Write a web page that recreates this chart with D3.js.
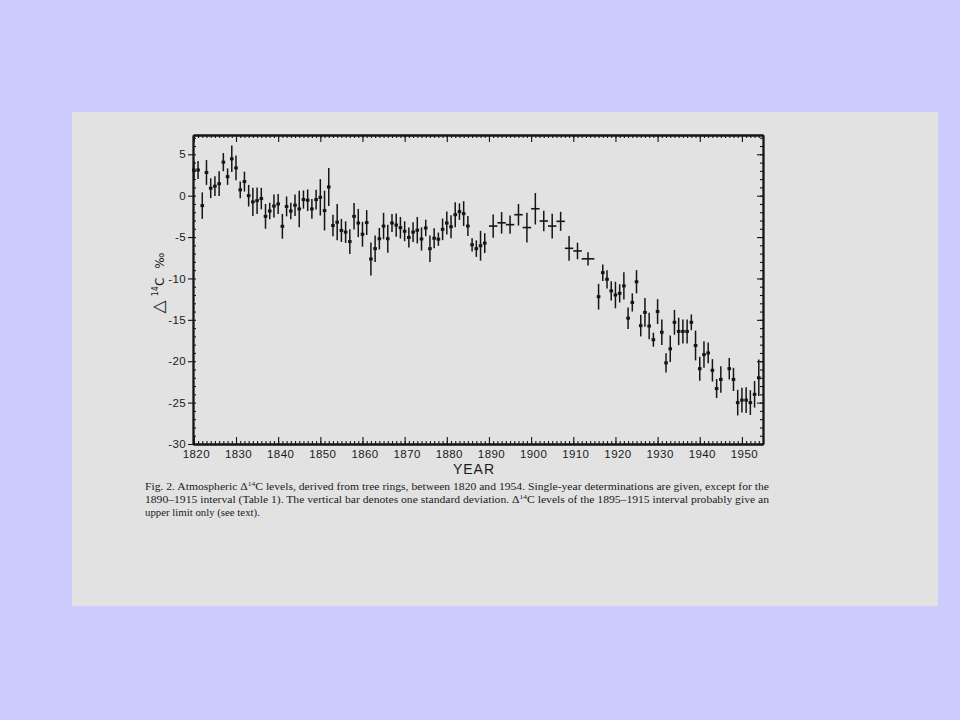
<!DOCTYPE html>
<html>
<head>
<meta charset="utf-8">
<script src="https://cdn.jsdelivr.net/npm/d3@7"></script>
<style>
  html, body { margin: 0; padding: 0; background: #ccccff; }
  svg { display: block; }
</style>
</head>
<body>
<svg id="chart" width="960" height="720"></svg>
<script>
// ---- data ----
const singleYears = [
  1820,1821,1822,1823,1824,1825,1826,1827,1828,1829,
  1830,1831,1832,1833,1834,1835,1836,1837,1838,1839,
  1840,1841,1842,1843,1844,1845,1846,1847,1848,1849,
  1850,1851,1852,1853,1854,1855,1856,1857,1858,1859,
  1860,1861,1862,1863,1864,1865,1866,1867,1868,1869,
  1870,1871,1872,1873,1874,1875,1876,1877,1878,1879,
  1880,1881,1882,1883,1884,1885,1886,1887,1888,1889,
  1916,1917,1918,1919,1920,1921,1922,1923,1924,1925,
  1926,1927,1928,1929,1930,1931,1932,1933,1934,1935,
  1936,1937,1938,1939,1940,1941,1942,1943,1944,1945,
  1947,1948,1949,1950,1951,1952,1953,1954
];
const singleValues = [
  3.1,3.1,-1.2,2.8,0.9,1.15,1.45,4.05,2.3,4.45,
  3.35,0.7,1.7,0.0,-0.75,-0.6,-0.35,-2.5,-1.85,-1.25,
  -1.0,-3.7,-1.3,-1.85,-1.15,-1.6,-0.47,-0.55,-1.6,-0.47,
  -0.2,-1.8,1.05,-3.6,-3.2,-4.2,-4.4,-5.55,-2.5,-3.3,
  -4.66,-3.25,-7.65,-6.4,-5.2,-3.67,-5.2,-3.3,-3.55,-3.87,
  -4.3,-5.05,-4.4,-4.17,-5.23,-3.9,-6.4,-5.14,-5.26,-4.07,
  -3.3,-3.75,-2.3,-1.93,-2.17,-3.67,-5.93,-6.4,-6.05,-5.73,
  -12.2,-9.3,-10.1,-11.5,-12.0,-11.8,-10.9,-14.8,-12.9,-10.4,
  -15.7,-14.1,-15.75,-17.4,-14.0,-16.5,-20.2,-18.5,-15.3,-16.4,
  -16.4,-16.4,-15.3,-18.1,-20.9,-19.2,-19.0,-21.1,-23.3,-22.2,
  -20.9,-22.2,-25.0,-24.7,-24.7,-25.0,-24.0,-22.0
];
const singleErrors = [
  1.1,1.1,1.6,1.5,1.2,1.2,1.5,1.1,1.0,1.6,
  1.5,1.0,1.2,1.3,1.7,1.6,1.3,1.5,1.0,1.4,
  1.2,1.5,1.2,1.0,1.3,2.2,1.1,1.3,1.2,1.2,
  2.2,2.4,2.3,1.3,2.2,1.4,1.3,1.5,1.6,1.7,
  1.5,1.5,2.0,1.6,1.3,1.6,1.7,1.1,1.4,1.3,
  1.2,1.2,1.2,1.6,1.4,1.0,1.6,1.2,0.8,1.3,
  1.4,1.4,1.5,1.0,1.5,1.2,0.8,1.0,1.8,1.2,
  1.55,1.0,1.1,1.15,1.6,1.1,1.65,1.3,1.1,1.4,
  1.3,1.75,1.6,0.85,1.5,1.55,1.15,1.6,1.5,1.65,
  1.45,1.45,0.95,1.8,1.45,1.6,1.25,1.35,1.15,1.6,
  1.3,1.4,1.55,1.5,1.55,1.5,1.6,2.2
];
// grouped determinations, 1890-1915 interval
const groupYears     = [1891,1893,1895,1897,1899,1901,1903,1905,1907,1909,1911,1913.5];
const groupValues    = [-3.67,-3.28,-3.5,-2.3,-3.85,-1.58,-3.06,-3.67,-3.1,-6.36,-6.68,-7.63];
const groupErrors    = [1.4,1.3,1.1,1.3,1.8,1.9,1.25,1.5,1.15,1.5,1.0,0.8];
const groupHalfSpans = [1,1,1,1,1,1,1,1,1,1,1,1.5];

const yMajorTicks = [5,0,-5,-10,-15,-20,-25,-30];
const xMajorTicks = [1820,1830,1840,1850,1860,1870,1880,1890,1900,1910,1920,1930,1940,1950];
const captionLines = [
  ["Fig. 2. Atmospheric Δ", "14", "C levels, derived from tree rings, between 1820 and 1954. Single-year determinations are given, except for the"],
  ["1890–1915 interval (Table 1). The vertical bar denotes one standard deviation. Δ", "14", "C levels of the 1895–1915 interval probably give an"],
  ["upper limit only (see text)."]
];

// ---- drawing ----
const svg = d3.select("#chart");
const ink = "#151515";

// scanned page
svg.append("rect").attr("x", 72).attr("y", 112).attr("width", 866).attr("height", 494)
  .attr("fill", "#e2e2e2");

const L = 193, R = 763, T = 135, B = 444;
const x = d3.scaleLinear().domain([1819.8, 1955]).range([L, R]);
const y = d3.scaleLinear().domain([-30, 7.33]).range([B, T]);

const minorX = d3.range(1820, 1956, 1);
const minorY = d3.range(-30, 8, 1);

function styleAxis(g) {
  g.selectAll("path.domain").attr("stroke", ink).attr("stroke-width", 1.8);
  g.selectAll(".tick line").attr("stroke", ink).attr("stroke-width", 1.1);
  g.selectAll("text").attr("fill", "#1a1a1a")
    .attr("font-family", "'Liberation Sans', Arial, sans-serif").attr("font-size", 11.5)
    .attr("letter-spacing", 0.4);
}

// bottom: minor + major inward ticks, labels below
svg.append("g").attr("transform", `translate(0,${B})`)
  .call(d3.axisBottom(x).tickValues(minorX).tickSizeInner(-3).tickSizeOuter(0).tickFormat(""))
  .call(styleAxis);
svg.append("g").attr("transform", `translate(0,${B})`)
  .call(d3.axisBottom(x).tickValues(xMajorTicks).tickSizeInner(-7).tickSizeOuter(0).tickPadding(6).tickFormat(d => String(d)))
  .call(styleAxis)
  .call(g => g.selectAll("text").attr("dx", 2));

// top: inward ticks
svg.append("g").attr("transform", `translate(0,${T})`)
  .call(d3.axisTop(x).tickValues(minorX).tickSizeInner(-3).tickSizeOuter(0).tickFormat(""))
  .call(styleAxis);
svg.append("g").attr("transform", `translate(0,${T})`)
  .call(d3.axisTop(x).tickValues(xMajorTicks).tickSizeInner(-7).tickSizeOuter(0).tickFormat(""))
  .call(styleAxis);

// left: minor inward, major outward with labels
svg.append("g").attr("transform", `translate(${L},0)`)
  .call(d3.axisLeft(y).tickValues(minorY).tickSizeInner(-3).tickSizeOuter(0).tickFormat(""))
  .call(styleAxis);
svg.append("g").attr("transform", `translate(${L},0)`)
  .call(d3.axisLeft(y).tickValues(yMajorTicks).tickSizeInner(5).tickSizeOuter(0).tickPadding(2).tickFormat(d => String(d)))
  .call(styleAxis);

// right: inward ticks
svg.append("g").attr("transform", `translate(${R},0)`)
  .call(d3.axisRight(y).tickValues(minorY).tickSizeInner(-3).tickSizeOuter(0).tickFormat(""))
  .call(styleAxis);
svg.append("g").attr("transform", `translate(${R},0)`)
  .call(d3.axisRight(y).tickValues(yMajorTicks).tickSizeInner(-6).tickSizeOuter(0).tickFormat(""))
  .call(styleAxis);

// single-year points
const singles = singleYears.map((yr, i) => ({ yr, v: singleValues[i], e: singleErrors[i] }));
const gS = svg.append("g");
gS.selectAll("line.err").data(singles).join("line")
  .attr("x1", d => x(d.yr)).attr("x2", d => x(d.yr))
  .attr("y1", d => y(d.v + d.e)).attr("y2", d => y(d.v - d.e))
  .attr("stroke", ink).attr("stroke-width", 1.5);
gS.selectAll("rect.pt").data(singles).join("rect")
  .attr("x", d => x(d.yr) - 1.8).attr("y", d => y(d.v) - 1.5)
  .attr("width", 3.6).attr("height", 3).attr("fill", ink);

// grouped points
const groups = groupYears.map((yr, i) => ({ yr, v: groupValues[i], e: groupErrors[i], h: groupHalfSpans[i] }));
const gG = svg.append("g");
gG.selectAll("line.v").data(groups).join("line")
  .attr("x1", d => x(d.yr)).attr("x2", d => x(d.yr))
  .attr("y1", d => y(d.v + d.e)).attr("y2", d => y(d.v - d.e))
  .attr("stroke", ink).attr("stroke-width", 1.5);
gG.selectAll("line.h").data(groups).join("line")
  .attr("x1", d => x(d.yr - d.h)).attr("x2", d => x(d.yr + d.h))
  .attr("y1", d => y(d.v)).attr("y2", d => y(d.v))
  .attr("stroke", ink).attr("stroke-width", 1.6);

// axis titles
svg.append("text").attr("x", 474).attr("y", 474).attr("text-anchor", "middle")
  .attr("font-family", "'Liberation Sans', Arial, sans-serif").attr("font-size", 14)
  .attr("letter-spacing", 1).attr("fill", "#1a1a1a").text("YEAR");

const yt = svg.append("text").attr("transform", "translate(164,283) rotate(-90)")
  .attr("text-anchor", "middle").attr("fill", "#1a1a1a")
  .attr("font-family", "'DejaVu Sans', sans-serif").attr("font-size", 12);
yt.append("tspan").attr("font-size", 17).text("△");
yt.append("tspan").attr("dx", 4).attr("dy", -6).attr("font-size", 8).text("14");
yt.append("tspan").attr("dy", 6).attr("font-size", 12).text("C");
yt.append("tspan").attr("dx", 9).text("‰");

// caption
const cap = svg.append("g").attr("font-family", "'Liberation Serif', 'Times New Roman', serif")
  .attr("font-size", 10.8).attr("fill", "#1a1a1a");
captionLines.forEach((parts, i) => {
  const t = cap.append("text").attr("x", 145).attr("y", 490 + i * 13.2);
  if (i < 2) t.attr("textLength", 624).attr("lengthAdjust", "spacingAndGlyphs");
  parts.forEach((p, j) => {
    const ts = t.append("tspan").text(p);
    if (parts.length === 3 && j === 1) ts.attr("dy", -4).attr("font-size", 7);
    if (parts.length === 3 && j === 2) ts.attr("dy", 4);
  });
});
</script>
</body>
</html>
